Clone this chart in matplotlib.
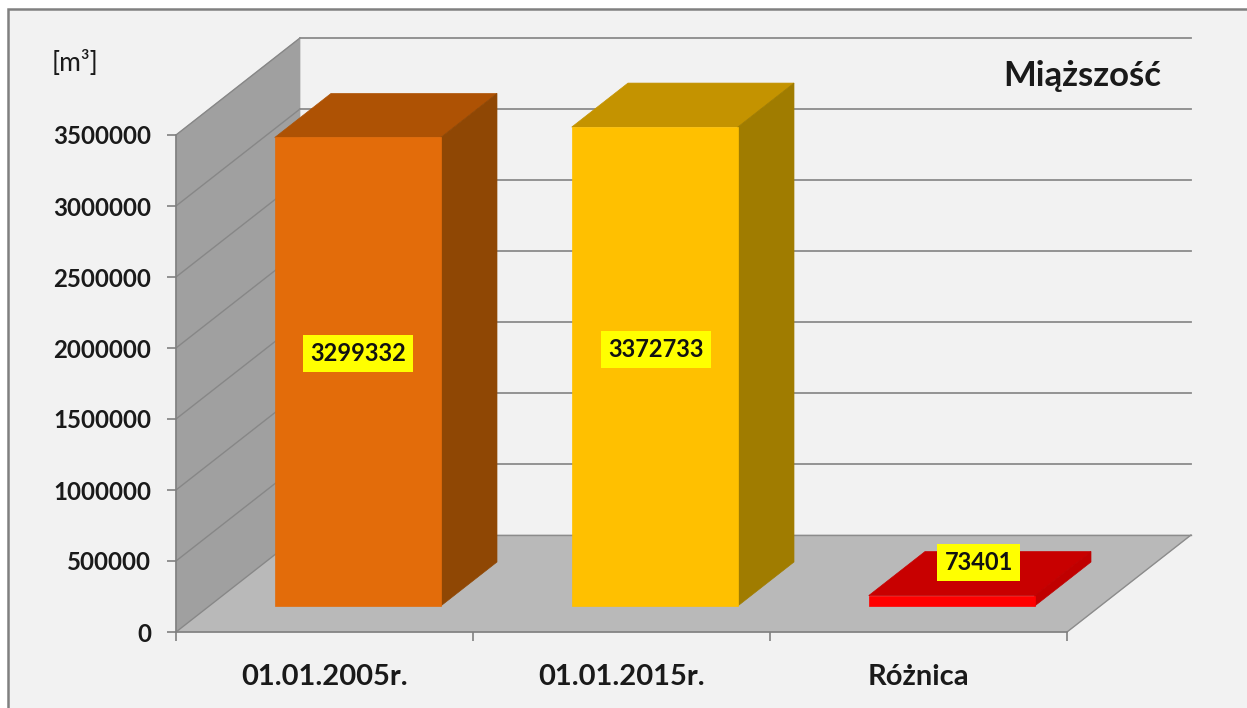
import matplotlib
matplotlib.use("Agg")
import matplotlib.pyplot as plt
from matplotlib.patches import Polygon, Rectangle

# Values
categories = ["01.01.2005r.", "01.01.2015r.", "Różnica"]
values = [3299332, 3372733, 73401]
y_ticks = [0, 500000, 1000000, 1500000, 2000000, 2500000, 3000000, 3500000]

W, H = 1247, 708
plt.rcParams["font.family"] = ["Lato", "DejaVu Sans"]

front_colors = ["#E36C0A", "#FFC000", "#FF0000"]
top_colors = ["#AE5204", "#C49300", "#C80000"]
side_colors = ["#8F4704", "#A07C00", "#C00000"]
label_offsets = [(0, 18), (1, 17), (27, 38)]  # px from bar centre

fig = plt.figure(figsize=(W / 100, H / 100), dpi=100, facecolor="white")

# Panel with frame on left and top only
fig.add_artist(Rectangle((8 / W, -0.1), 1.1, (H - 9) / H + 0.1, transform=fig.transFigure,
                         facecolor="#F2F2F2", edgecolor="#808080", linewidth=1.8, zorder=-1))

# Front plane of the 3D box
ax = fig.add_axes([176 / W, 1 - 632 / H, (1067 - 176) / W, (632 - 135) / H])
ax.set_xlim(0, 3)
ax.set_ylim(0, 3500000)
ax.patch.set_visible(False)

# Depth of the box, in data units
px_x = 3 / (1067 - 176)
px_y = 3500000 / (632 - 135)
depth_x = 124 * px_x
depth_y = 97 * px_y


def pt(x, v, d):
    return (x + d * depth_x, v + d * depth_y)


def face(points, color, z):
    ax.add_patch(Polygon(points, closed=True, facecolor=color, edgecolor=color,
                         linewidth=0.5, clip_on=False, zorder=z))


top_v = y_ticks[-1]

# Side wall and floor
face([pt(0, 0, 0), pt(0, 0, 1), pt(0, top_v, 1), pt(0, top_v, 0)], "#A0A0A0", 1)
face([pt(0, 0, 0), pt(3, 0, 0), pt(3, 0, 1), pt(0, 0, 1)], "#B9B9B9", 1)

# Grid lines on side wall and back wall
for v in y_ticks:
    a, b, c = pt(0, v, 0), pt(0, v, 1), pt(3, v, 1)
    ax.plot([a[0], b[0]], [a[1], b[1]], color="#878787", lw=1.0, clip_on=False, zorder=2)
    if v > 0:
        ax.plot([b[0], c[0]], [b[1], c[1]], color="#8C8C8C", lw=1.3, clip_on=False, zorder=2)
f0, f1 = pt(3, 0, 0), pt(3, 0, 1)
ax.plot([f0[0], f1[0]], [f0[1], f1[1]], color="#8C8C8C", lw=1.0, clip_on=False, zorder=2)
b0, b1 = pt(0, 0, 1), pt(3, 0, 1)
ax.plot([b0[0], b1[0]], [b0[1], b1[1]], color="#8C8C8C", lw=1.0, clip_on=False, zorder=2)

# Bars
bar_w = 166 * px_x
d0, d1 = 26 / 97, 26 / 97 + 44 / 97
for i, v in enumerate(values):
    x0 = i + 0.5 - bar_w / 2
    x1 = i + 0.5 + bar_w / 2
    face([pt(x0, 0, d0), pt(x1, 0, d0), pt(x1, v, d0), pt(x0, v, d0)], front_colors[i], 5)
    face([pt(x0, v, d0), pt(x1, v, d0), pt(x1, v, d1), pt(x0, v, d1)], top_colors[i], 4)
    face([pt(x1, 0, d0), pt(x1, 0, d1), pt(x1, v, d1), pt(x1, v, d0)], side_colors[i], 4)

    centre = pt(i + 0.5, v / 2, d0)
    off = label_offsets[i]
    ax.annotate(str(v), xy=centre, xytext=(off[0] * 0.72, off[1] * 0.72),
                textcoords="offset points", ha="center", va="center", fontsize=17,
                fontweight="bold", color="#111111", zorder=8, annotation_clip=False,
                bbox=dict(boxstyle="square,pad=0.3", facecolor="#FFFF00", edgecolor="none"))

# Axes, ticks and labels
for name in ["top", "right"]:
    ax.spines[name].set_visible(False)
for name in ["left", "bottom"]:
    ax.spines[name].set_color("#808080")
    ax.spines[name].set_linewidth(1.2)
    ax.spines[name].set_zorder(3)

ax.set_yticks(y_ticks)
ax.set_yticklabels([str(t) for t in y_ticks], fontsize=17.3, fontweight="bold", color="#1A1A1A")
ax.set_xticks([0, 1, 2, 3])
ax.set_xticklabels([])
ax.set_xticks([0.5, 1.5, 2.5], minor=True)
ax.set_xticklabels(categories, minor=True, fontsize=21, fontweight="bold", color="#1A1A1A")
ax.tick_params(axis="y", length=6.5, width=1.2, color="#808080", pad=11.5)
ax.tick_params(axis="x", which="major", length=6.5, width=1.2, color="#808080")
ax.tick_params(axis="x", which="minor", length=0, pad=23)

fig.text(75 / W, 1 - 63 / H, "[m³]", ha="center", va="center", fontsize=19, color="#1A1A1A")
fig.text(1082 / W, 1 - 76 / H, "Miąższość", ha="center", va="center", fontsize=25,
         fontweight="bold", color="#1A1A1A")

fig.savefig("out.png", dpi=100, facecolor=fig.get_facecolor())
